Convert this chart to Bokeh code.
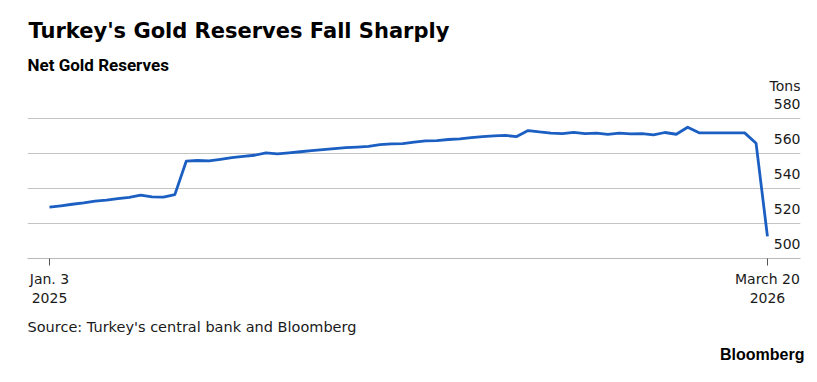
import pandas as pd
from bokeh.plotting import figure
from bokeh.models import (ColumnDataSource, FixedTicker, Grid, Label, Range1d, Title)
from bokeh.core.properties import value
from bokeh.embed import file_html
from bokeh.resources import INLINE

# ---------------- data ----------------
start_date = "2025-01-03"
n_weeks = 64
reserves_tons = [
    529.3, 530.1, 531.0, 531.8, 532.8, 533.4, 534.2, 534.9, 536.2, 535.2,
    535.1, 536.5, 555.6, 556.0, 555.8, 556.7, 557.6, 558.3, 559.0, 560.4,
    559.8, 560.4, 561.0, 561.6, 562.2, 562.8, 563.3, 563.7, 564.1, 565.1,
    565.5, 565.7, 566.5, 567.2, 567.4, 568.0, 568.4, 569.1, 569.7, 570.1,
    570.3, 569.7, 573.1, 572.3, 571.7, 571.4, 572.1, 571.4, 571.6, 570.9,
    571.6, 571.2, 571.4, 570.7, 572.0, 571.0, 575.0, 571.8, 571.8, 571.8,
    571.8, 571.8, 565.9, 512.6,
]
dates = pd.date_range(start_date, periods=n_weeks, freq="7D")

y_ticks = [500, 520, 540, 560, 580]
y_tick_labels = ["500", "520", "540", "560", "580"]
x_tick_dates = ["2025-01-03", "2026-03-20"]
x_tick_labels = ["Jan. 3\n2025", "March 20\n2026"]

title_text = "Turkey's Gold Reserves Fall Sharply"
subtitle_text = "Net Gold Reserves"
unit_text = "Tons"
source_text = "Source: Turkey's central bank and Bloomberg"
brand_text = "Bloomberg"

# ---------------- figure ----------------
DAY = 86400000.0
t0 = pd.Timestamp(dates[0]).value / 1e6
t1 = pd.Timestamp(dates[-1]).value / 1e6
x_start = t0 - 13.5 * DAY
x_end = t1 + 20.3 * DAY

W, H = 812, 378
FRAME_L, FRAME_R, FRAME_B = 27, 800, 258
PX_PER_TON = 1.75
y_end = 500 + FRAME_B / PX_PER_TON

p = figure(width=W, height=H, x_axis_type="datetime", y_axis_location=None,
           output_backend="svg", toolbar_location=None,
           x_range=Range1d(x_start, x_end), y_range=Range1d(500, y_end),
           min_border_left=FRAME_L, min_border_right=W - FRAME_R, min_border_top=0,
           min_border_bottom=H - FRAME_B)
p.outline_line_color = None
p.background_fill_color = "white"
p.border_fill_color = "white"
p.xgrid.visible = False

if len(p.ygrid) == 0:
    p.add_layout(Grid(dimension=1))
p.ygrid.ticker = FixedTicker(ticks=y_ticks)
p.ygrid.grid_line_color = "#c4c4c4"
p.ygrid.grid_line_width = 1.2

# x axis
xt = [pd.Timestamp(d).value / 1e6 for d in x_tick_dates]
ax = p.xaxis[0]
ax.ticker = FixedTicker(ticks=xt)
ax.minor_tick_line_color = None
ax.major_label_overrides = {v: lab for v, lab in zip(xt, x_tick_labels)}
ax.axis_line_color = "#b8b8b8"
ax.axis_line_width = 1.2
ax.major_tick_line_color = "#555555"
ax.major_tick_in = 0
ax.major_tick_out = 7
ax.major_label_standoff = 5
ax.major_label_text_font = "DejaVu Sans"
ax.major_label_text_font_size = "14px"
ax.major_label_text_color = "#1a1a1a"

# line
src = ColumnDataSource(dict(x=dates, y=reserves_tons))
p.line("x", "y", source=src, line_color="#1b5fc2", line_width=2.8,
       line_join="round")

# y tick labels, inside frame above gridlines on right
lab_src = ColumnDataSource(dict(x=[x_end] * len(y_ticks), y=y_ticks, t=y_tick_labels))
p.text("x", "y", text="t", source=lab_src, text_align="right",
       text_baseline="alphabetic", y_offset=-15,
       text_font=value("DejaVu Sans"), text_font_size="14px", text_color="#1a1a1a")
p.text(x=[x_end], y=[580], text=[unit_text], text_align="right",
       text_baseline="alphabetic", y_offset=-33,
       text_font=value("DejaVu Sans"), text_font_size="14px", text_color="#1a1a1a")

# title & subtitle inside the (tall) frame, screen units from frame bottom-left
p.add_layout(Label(x=1, y=FRAME_B - 30, x_units="screen", y_units="screen",
                   text=title_text, text_font="DejaVu Sans", text_font_style="bold",
                   text_font_size="21px", text_color="#000000",
                   text_baseline="alphabetic"))
p.add_layout(Label(x=0, y=FRAME_B - 64, x_units="screen", y_units="screen",
                   text=subtitle_text, text_font="Roboto",
                   text_font_style="bold", text_font_size="17px",
                   text_color="#000000", text_baseline="alphabetic"))

# source & brand below the axis
p.add_layout(Title(text=source_text, align="left", text_font="DejaVu Sans",
                   text_font_style="normal", text_font_size="14.5px",
                   text_color="#1a1a1a", standoff=17), "below")
p.add_layout(Title(text=brand_text, align="right", offset=-4,
                   text_font="Liberation Sans", text_font_style="bold",
                   text_font_size="16px", text_color="#000000", standoff=0), "below")

open("out.html", "w").write(file_html(p, INLINE))
